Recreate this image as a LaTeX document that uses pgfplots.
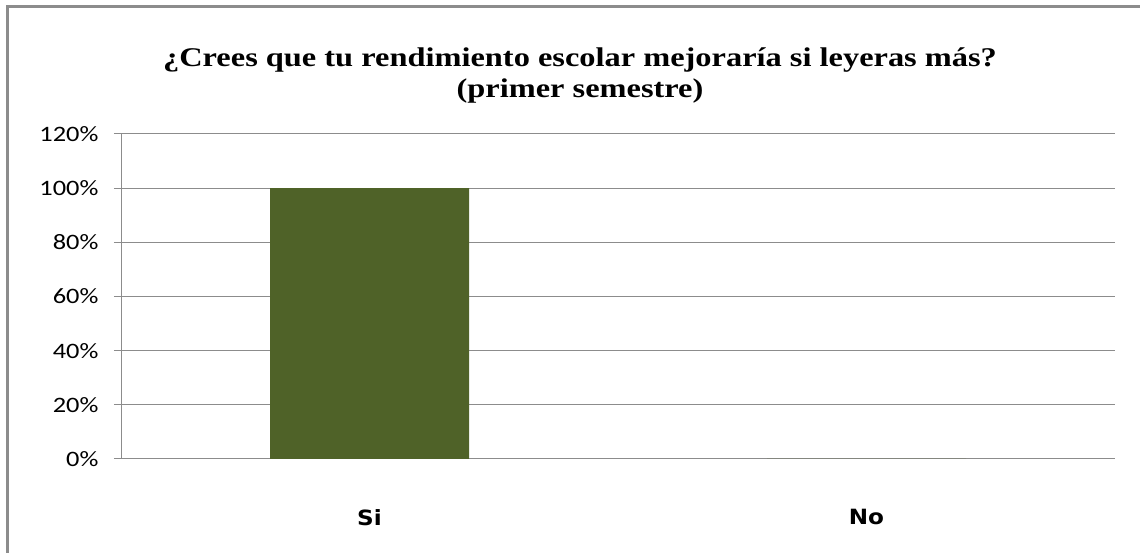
\documentclass[border=0pt]{standalone}
\usepackage{pgfplots}
\pgfplotsset{compat=1.18}
\usepackage{fontspec}
\setmainfont{Liberation Serif}
\newfontfamily\titlefont[FakeStretch=1.2]{Liberation Serif}
\newfontfamily\tickfont[FakeStretch=1.2]{Carlito}
\newfontfamily\catfont[FakeStretch=1.1]{DejaVu Sans}
\definecolor{barcol}{HTML}{4F6228}
\definecolor{gridcol}{HTML}{8C8C8C}
\begin{document}
\begin{tikzpicture}[x=1pt,y=1pt]
\useasboundingbox (0,0) rectangle (1140,553);
\fill[white] (0,0) rectangle (1140,553);
\begin{scope}
\clip (0,0) rectangle (1140,553);
\draw[color=gridcol, line width=2.5pt] (7.5,-5) -- (7.5,546.5) -- (1150,546.5);
\end{scope}
\node[font={\titlefont\fontsize{27}{31}\selectfont\bfseries}, align=center] at (580,477) {¿Crees que tu rendimiento escolar mejoraría si leyeras más?\\(primer semestre)};
\begin{axis}[
  at={(121pt,94pt)}, anchor=south west,
  scale only axis, width=994pt, height=325pt,
  xmin=-0.5, xmax=1.5, ymin=0, ymax=120,
  axis x line*=bottom, axis y line*=left,
  axis line style={gridcol, line width=1pt},
  ytick={0,20,...,120},
  yticklabel={\pgfmathprintnumber{\tick}\%},
  /pgf/number format/assume math mode=true,
  yticklabel style={font=\tickfont\fontsize{22}{24}\selectfont, xshift=-12pt},
  ymajorgrids, grid style={gridcol, line width=1pt},
  xtick={0,1}, xticklabels={Si,No},
  xticklabel style={font=\catfont\fontsize{21}{24}\selectfont\bfseries, yshift=-40pt},
  minor xtick={-0.5,0.5,1.5},
  tick align=outside,
  major tick length=7pt, minor tick length=8pt,
  xtick style={draw=none},
  ytick style={gridcol, line width=1pt},
  minor tick style={gridcol, line width=1pt},
  xminorgrids=false,
]
\addplot[ybar, bar width=199pt, fill=barcol, draw=none] coordinates {(0,100) (1,0)};
\end{axis}
\end{tikzpicture}
\end{document}
